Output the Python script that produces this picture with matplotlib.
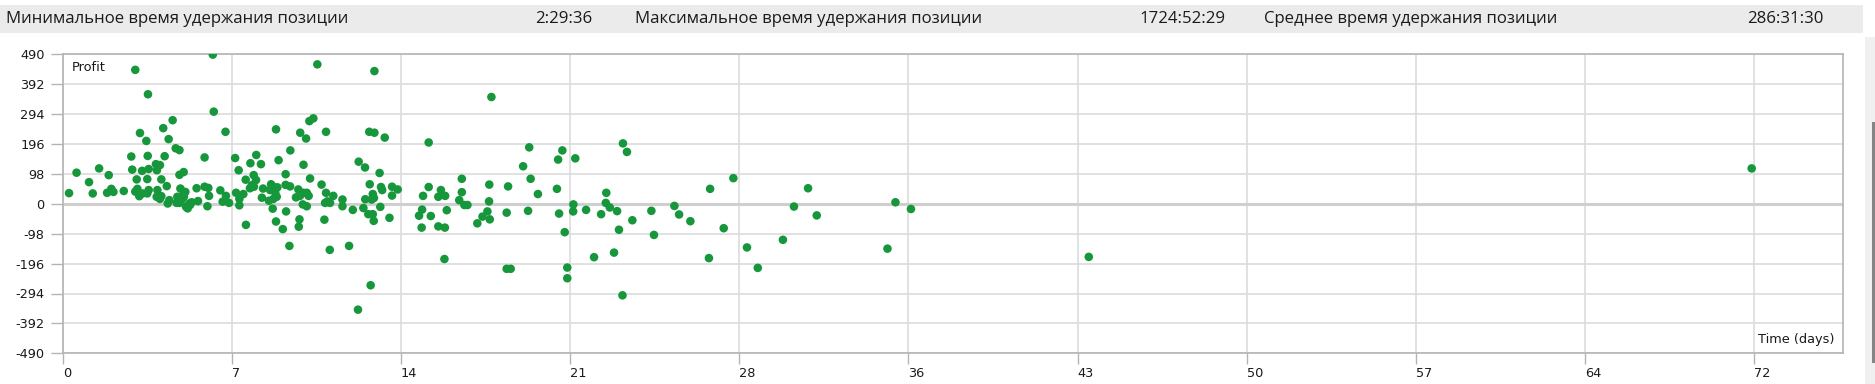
import matplotlib
matplotlib.use("Agg")
import matplotlib.pyplot as plt
from matplotlib.patches import Rectangle
import numpy as np

# ---------------- data ----------------
days = [
    3.09, 3.63, 4.68, 4.28, 3.29, 3.56, 4.51, 4.81, 4.97, 2.92, 3.62, 4.34, 3.97, 4.14, 2.96, 3.38,
    3.66, 4.01, 4.97, 5.15, 0.59, 1.55, 1.96, 1.12, 3.15, 3.60, 4.20, 4.43, 0.27, 1.28, 1.89, 2.07,
    2.16, 2.60, 3.09, 3.18, 3.26, 3.40, 3.60, 3.66, 4.03, 4.00, 4.14, 4.20, 4.47, 4.54, 4.88, 4.97,
    4.85, 5.01, 5.07, 5.14, 5.16, 5.22, 5.25, 5.32, 5.39, 5.49, 5.42,
    6.39, 10.84, 6.43, 6.93, 9.08, 10.11, 10.36, 10.50, 10.67, 6.04, 7.34, 8.24, 7.99, 8.44, 7.49,
    9.69, 9.19, 10.25, 9.49, 10.53, 7.79, 8.13, 8.23, 8.05, 8.14, 7.97, 8.53, 8.87, 8.97, 9.14,
    9.49, 9.68, 8.83, 9.05, 8.48, 8.97, 9.11, 8.78, 8.94, 9.08, 9.37, 9.51, 9.65, 7.80, 5.70, 6.04,
    6.20, 6.23, 6.16, 5.76, 6.71, 6.95, 6.81, 7.08, 7.38, 7.52, 7.52, 7.69, 10.03, 10.10, 9.93,
    10.25, 10.39, 10.47, 10.22, 10.39, 10.08, 10.05,
    13.27, 11.21, 13.05, 13.27, 13.71, 15.58, 12.60, 12.87, 13.49, 11.02, 11.21, 11.52, 11.17,
    11.38, 11.27, 11.91, 11.91, 12.35, 11.14, 11.37, 12.19, 13.11, 12.57, 13.07, 12.88, 12.80,
    13.20, 13.25, 13.15, 13.01, 13.20, 13.24, 13.52, 13.55, 13.60, 13.91, 14.02, 14.02, 14.26,
    15.34, 15.58, 15.30, 15.17, 15.67, 15.28, 15.99, 16.27, 15.99, 16.10, 16.28, 16.35, 16.25,
    18.25, 19.86, 21.27, 21.09, 21.82, 23.85, 24.02, 19.60, 16.99, 19.92, 18.16, 18.96, 21.04,
    20.23, 16.99, 16.88, 17.10, 17.23, 18.15, 18.08, 17.87, 17.65, 18.18, 18.90, 19.81, 21.13,
    21.37, 21.74, 21.73, 22.28, 22.92, 23.14, 23.12, 23.29, 23.60, 23.68, 24.25, 22.62, 23.47,
    23.83, 18.90, 19.07, 21.48, 21.48,
    28.55, 27.56, 25.06, 26.04, 26.24, 26.72, 25.17, 28.14, 27.51, 29.13, 29.59, 30.66, 31.13,
    31.73, 32.10, 35.11, 35.45, 36.11, 43.68, 71.9,
]
profit = [
    439, 359, 274, 248, 232, 206, 212, 182, 176, 155, 157, 156, 130, 127, 112, 108,
    114, 110, 95, 104, 102, 116, 94, 71, 80, 81, 80, 58, 35, 34, 36, 49,
    39, 42, 40, 49, 25, 34, 34, 45, 45, 23, 16, 25, 1, 12, 23, 3,
    3, 50, 14, 32, 23, 39, -10, -15, 1, 5, -4,
    489, 457, 302, 236, 244, 233, 214, 271, 280, 152, 150, 160, 133, 130, 110,
    175, 143, 128, 97, 83, 79, 94, 78, 61, 56, 51, 50, 64, 56, 54,
    62, 57, 45, 36, 20, 16, 23, 10, -16, -58, -83, -25, -138, -69, 51, 56,
    52, 26, -8, 9, 44, 26, 7, 3, 36, 16, -5, 32, 47, 26, 21,
    36, 36, 26, -2, -8, -51, -75,
    435, 236, 236, 233, 217, 201, 138, 119, 101, 63, 36, 26, 3,
    3, 8, 14, -8, -20, -52, -151, -138, -267, -347, 64, 15, -14,
    32, 19, 14, -34, -34, -56, -10, 55, 45, -46, 56, 27, 47,
    26, 55, -19, -39, -40, -78, -74, -78, 23, 45, 26, -21, -181,
    350, 185, 175, 145, 149, 198, 170, 123, 82, 82, 63, 57, 49,
    32, 38, 12, -4, -4, 8, -25, -42, -64, -51, -29, -23, -32,
    -93, -2, -25, -20, -34, 36, 3, -12, -24, -85, -54, -175, -160,
    -300, -213, -213, -209, -244,
    84, 49, -23, -7, -35, -57, -102, -80, -178, -143, -210, -118, -9,
    51, -38, -147, 5, -17, -174, 116,
]
x_ticks = [0, 7.2, 14.4, 21.6, 28.8, 36, 43.2, 50.4, 57.6, 64.8, 72]
x_tick_labels = ["0", "7", "14", "21", "28", "36", "43", "50", "57", "64", "72"]
y_ticks = [-490, -392, -294, -196, -98, 0, 98, 196, 294, 392, 490]
header_labels = ["Минимальное время удержания позиции",
                 "Максимальное время удержания позиции",
                 "Среднее время удержания позиции"]
header_values = ["2:29:36", "1724:52:29", "286:31:30"]

# ---------------- figure ----------------
W, H = 1875, 384
fig = plt.figure(figsize=(W / 100, H / 100), dpi=100)
fig.patch.set_facecolor("white")

def fx(px):
    return px / W

def fy(py):
    return 1 - py / H

# header band
fig.patches.append(Rectangle((0, fy(33)), fx(1863), (33 - 5) / H,
                             transform=fig.transFigure, facecolor="#ebebeb",
                             edgecolor="none", zorder=0))
hfont = dict(family="Open Sans", fontsize=12.1, color="#1a1a1a", va="center")
label_x = [6, 635, 1264]
value_x = [535, 1139, 1747]
for lx, vx, lab, val in zip(label_x, value_x, header_labels, header_values):
    fig.text(fx(lx), fy(19), lab, ha="left", **hfont)
    fig.text(fx(vx), fy(19), val, ha="left", **hfont)

# scrollbar on the right
fig.patches.append(Rectangle((fx(1865), 0), fx(10), fy(37),
                             transform=fig.transFigure, facecolor="#f0f0f0",
                             edgecolor="none", zorder=0))
fig.patches.append(Rectangle((fx(1872), fy(363)), fx(4), (363 - 122) / H,
                             transform=fig.transFigure, facecolor="#858585",
                             edgecolor="none", zorder=1))

# axes
left, right, top, bottom = 62.7, 1843.3, 54.3, 353.3
ax = fig.add_axes([fx(left), fy(bottom), fx(right - left), (bottom - top) / H])
ax.set_xlim(0, 75.8)
ax.set_ylim(-490, 490)

ax.set_xticks(x_ticks)
ax.set_xticklabels(x_tick_labels)
ax.set_yticks(y_ticks)
ax.set_yticklabels([str(v) for v in y_ticks])
for lab in ax.get_xticklabels():
    lab.set_horizontalalignment("left")

ax.tick_params(axis="x", length=8, width=1, color="#b4b4b4", pad=2,
               labelsize=9.3, labelcolor="#1a1a1a")
ax.tick_params(axis="y", length=9, width=1, color="#b4b4b4", pad=4,
               labelsize=9.3, labelcolor="#1a1a1a")
for lab in ax.get_xticklabels() + ax.get_yticklabels():
    lab.set_family("DejaVu Sans")

ax.grid(True, color="#dcdcdc", linewidth=1.2, zorder=0)
ax.set_axisbelow(True)
ax.axhline(0, color="#cfcfcf", linewidth=2.2, zorder=1)
for s in ax.spines.values():
    s.set_color("#b4b4b4")
    s.set_linewidth(1.2)

ax.scatter(days, profit, s=38, color="#17973b", edgecolors="none", zorder=3)

ax.text((72 - left) / (right - left), 1 - (68 - top) / (bottom - top),
        "Profit", transform=ax.transAxes, ha="left", va="center",
        fontsize=9.3, family="DejaVu Sans", color="#1a1a1a")
ax.text((1757.7 - left) / (right - left), 1 - (339.3 - top) / (bottom - top),
        "Time (days)", transform=ax.transAxes, ha="left", va="center",
        fontsize=9.3, family="DejaVu Sans", color="#1a1a1a")

fig.savefig("out.png", dpi=100, facecolor="white")
